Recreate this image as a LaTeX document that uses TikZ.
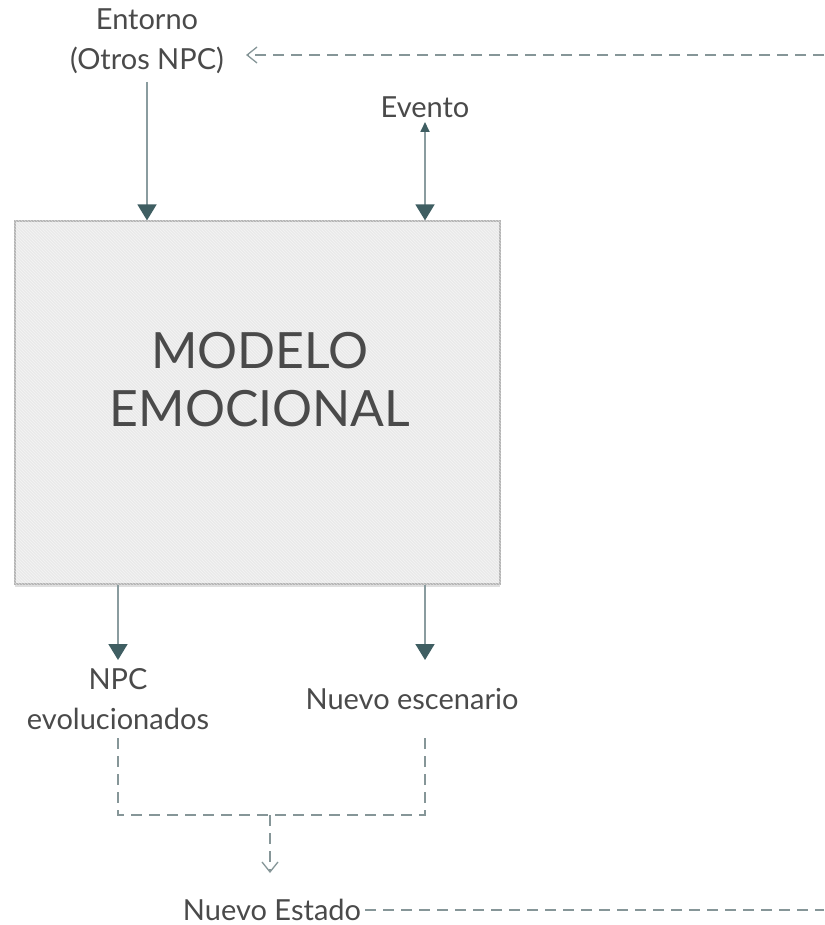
\documentclass[tikz,border=0pt]{standalone}
\usepackage{fontspec}
\setmainfont{Lato}
\usetikzlibrary{arrows.meta}
\usetikzlibrary{positioning}
\usetikzlibrary{patterns}
\usetikzlibrary{shadows}
\definecolor{linegray}{HTML}{8A9C9F}
\definecolor{tipdark}{HTML}{3F5E62}
\definecolor{dashgray}{HTML}{869698}
\definecolor{boxfill}{HTML}{EAEAEA}
\definecolor{boxline}{HTML}{B4B4B4}
\definecolor{txtgray}{HTML}{4A4A4A}

\begin{document}
\begin{tikzpicture}[x=1pt,y=-1pt]
        \tikzset{txt/.style = {align=center,text=txtgray,inner sep=0pt,font=\fontsize{29}{40}\selectfont}}
        \tikzset{modelobox/.style = {draw=boxline,line width=1.2pt,fill=boxfill,minimum width=485,minimum height=363,
                drop shadow={opacity=0.25,shadow xshift=0pt,shadow yshift=-3pt}}}
        \tikzset{boxtxt/.style = {align=center,text=txtgray,font=\fontsize{50}{58}\selectfont}}
        \tikzset{in_edge/.style = {line width=1.7pt,color=linegray,-{Triangle[width=19pt,length=16pt,color=tipdark]}}}
        \tikzset{ev_edge/.style = {line width=1.7pt,color=linegray,{Triangle[width=9pt,length=10pt,color=tipdark]}-{Triangle[width=19pt,length=16pt,color=tipdark]}}}
        \tikzset{dash_line/.style = {line width=1.8pt,color=dashgray,dash pattern=on 11pt off 7pt}}
        \tikzset{dash_edge/.style = {dash_line,-{Straight Barb[width=16pt,length=10pt,line width=1.3pt]}}}

        \useasboundingbox (0,0) rectangle (824,925);

        \node[modelobox] (modelo) at (257.5,402.5) {};
        \fill[pattern=north west lines,pattern color=white,opacity=0.5] (modelo.south west) rectangle (modelo.north east);
        \node[boxtxt] (modelotxt) at (260,380) {MODELO\\EMOCIONAL};

        \node[txt] (entorno) at (147,41) {Entorno\\(Otros NPC)};
        \node[txt] (evento) at (425,107) {Evento};
        \node[txt] (npc) at (118,699) {NPC\\evolucionados};
        \node[txt] (escenario) at (412,699) {Nuevo escenario};
        \node[txt] (estado) at (272,910) {Nuevo Estado};

        \coordinate (esc out) at (425,660); \coordinate (esc down) at (425,738); \coordinate (npc down) at (118,738);
        \coordinate (join) at (270,815); \coordinate (back in) at (246,55); \coordinate (back out) at (824,55);

        \draw[in_edge] (entorno.south |- 0,82) -- (entorno.south |- modelo.north);
        \draw[ev_edge] (evento.south |- 0,122) -- (evento.south |- modelo.north);
        \draw[in_edge] (npc.north |- modelo.south) -- (npc.north |- esc out);
        \draw[in_edge] (esc out |- modelo.south) -- (esc out);

        \draw[dash_line] (npc down) |- (join) -| (esc down);
        \draw[dash_edge] (join) -- (join |- 0,873);
        \draw[dash_line] ([xshift=4pt]estado.east) -- (estado.east -| back out);
        \draw[dash_edge] (back out) -- (back in);
\end{tikzpicture}
\end{document}
